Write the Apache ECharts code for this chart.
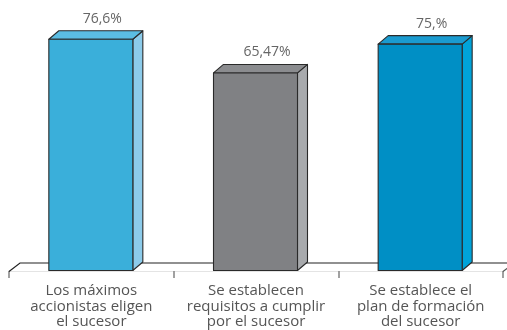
<!DOCTYPE html>
<html>
<head>
<meta charset="utf-8">
<script src="https://cdn.jsdelivr.net/npm/echarts@6/dist/echarts.min.js"></script>
<style>
  html, body { margin: 0; padding: 0; background: #fff; }
  #chart { width: 507px; height: 330px; }
</style>
</head>
<body>
<div id="chart"></div>
<script>
// Categories, values and their printed labels
const categories = [
  'Los máximos\naccionistas eligen\nel sucesor',
  'Se establecen\nrequisitos a cumplir\npor el sucesor',
  'Se establece el\nplan de formación\ndel sucesor'
];
const values = [76.6, 65.47, 75];
const valueLabels = ['76,6%', '65,47%', '75,%'];

// Face colours per bar: front, top, side
const frontColors = ['#3aafda', '#808184', '#008fc5'];
const topColors = ['#5bbde3', '#8b8c8f', '#1a9bd0'];
const sideColors = ['#8ccbea', '#a8aaad', '#00a3d9'];

const DX = 10;     // depth offset to the right
const DY = -8.5;   // depth offset upwards
const BAR_W = 84;
const EDGE = '#2a2a2a';

const chart = echarts.init(document.getElementById('chart'), null, { renderer: 'canvas' });

function renderBar(params, api) {
  const i = params.dataIndex;
  const top = api.coord([api.value(0), api.value(1)]);
  const base = api.coord([api.value(0), 0]);
  const l = top[0] - BAR_W / 2 - 0.5;
  const r = top[0] + BAR_W / 2 - 0.5;
  const t = top[1];
  const b = base[1] - 0.5;
  const edge = { stroke: EDGE, lineWidth: 1.1, lineJoin: 'round' };
  return {
    type: 'group',
    children: [
      {
        type: 'polygon',
        shape: { points: [[r, t], [r + DX, t + DY], [r + DX, b + DY], [r, b]] },
        style: Object.assign({ fill: sideColors[i] }, edge)
      },
      {
        type: 'polygon',
        shape: { points: [[l, t], [l + DX, t + DY], [r + DX, t + DY], [r, t]] },
        style: Object.assign({ fill: topColors[i] }, edge)
      },
      {
        type: 'rect',
        shape: { x: l, y: t, width: BAR_W, height: b - t },
        style: Object.assign({ fill: frontColors[i] }, edge)
      },
      {
        type: 'text',
        x: top[0] + DX + 1,
        y: t + DY - 12,
        style: {
          text: valueLabels[i],
          fill: '#666',
          font: '14px "Open Sans", sans-serif',
          align: 'center',
          verticalAlign: 'middle'
        }
      }
    ]
  };
}

// Back edge of the floor plane, drawn behind the bars
function renderFloor(params, api) {
  const cs = params.coordSys;
  const y0 = cs.y + cs.height + 0.5;
  const x0 = cs.x;
  const x1 = cs.x + cs.width;
  return {
    type: 'group',
    children: [
      {
        type: 'polyline',
        shape: { points: [[x0, y0], [x0 + DX + 1, y0 + DY], [x1 + DX + 1, y0 + DY]] },
        style: { stroke: '#222', lineWidth: 1.2, fill: null }
      },
      {
        type: 'line',
        shape: { x1: x1, y1: y0, x2: x1 + DX + 1, y2: y0 + DY },
        style: { stroke: '#555', lineWidth: 1.2 }
      }
    ]
  };
}

chart.setOption({
  animation: false,
  backgroundColor: '#ffffff',
  grid: { left: 9, right: 4, top: 29, bottom: 59 },
  xAxis: {
    type: 'category',
    data: categories,
    boundaryGap: true,
    axisLine: { show: true, lineStyle: { color: '#e4e4e4', width: 1 } },
    axisTick: { show: true, length: 7, lineStyle: { color: '#8a8a8a', width: 1.6 } },
    axisLabel: {
      color: '#555',
      fontFamily: '"Open Sans", sans-serif',
      fontSize: 15,
      lineHeight: 15.5,
      margin: 12,
      interval: 0
    },
    splitLine: { show: false }
  },
  yAxis: {
    type: 'value',
    min: 0,
    max: 80,
    show: false,
    splitLine: { show: false }
  },
  series: [
    {
      type: 'custom',
      name: 'floor',
      z: 1,
      renderItem: renderFloor,
      data: [[0, 0]],
      silent: true
    },
    {
      type: 'custom',
      name: 'bars',
      z: 2,
      renderItem: renderBar,
      encode: { x: 0, y: 1 },
      data: values.map((v, i) => [i, v])
    }
  ]
});
</script>
</body>
</html>
